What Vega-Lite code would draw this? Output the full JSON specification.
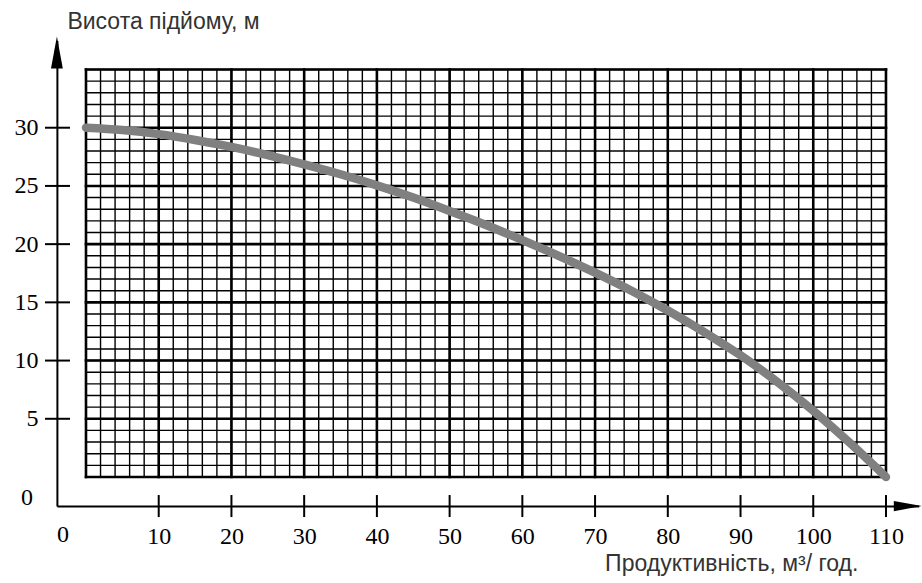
{
  "$schema": "https://vega.github.io/schema/vega-lite/v6.json",
  "width": 861.8,
  "height": 465.7,
  "autosize": {"type": "none"},
  "padding": {"left": 56.9, "top": 40.4, "right": 3.3, "bottom": 76.9},
  "background": "white",
  "config": {
    "view": {"stroke": null},
    "axis": {
      "domainColor": "black",
      "domainWidth": 2,
      "ticks": false,
      "tickSize": 0,
      "grid": false,
      "labelFont": "Liberation Serif",
      "labelFontSize": 24,
      "labelColor": "black",
      "labelFlush": false,
      "labelOverlap": false,
      "titleFont": "Liberation Sans",
      "titleFontSize": 23,
      "titleFontWeight": "normal",
      "titleColor": "#333333"
    }
  },
  "datasets": {
    "curve": [
      {"q": 0, "h": 30.0}, {"q": 5, "h": 29.8}, {"q": 10, "h": 29.45}, {"q": 15, "h": 28.95},
      {"q": 20, "h": 28.35}, {"q": 25, "h": 27.65}, {"q": 30, "h": 26.85}, {"q": 35, "h": 26.0},
      {"q": 40, "h": 25.05}, {"q": 45, "h": 24.0}, {"q": 50, "h": 22.85}, {"q": 55, "h": 21.65},
      {"q": 60, "h": 20.35}, {"q": 65, "h": 19.0}, {"q": 70, "h": 17.55}, {"q": 75, "h": 16.0},
      {"q": 80, "h": 14.3}, {"q": 85, "h": 12.45}, {"q": 90, "h": 10.45}, {"q": 95, "h": 8.2},
      {"q": 100, "h": 5.7}, {"q": 105, "h": 2.95}, {"q": 110, "h": 0.0}
    ],
    "gx": [
      {"v": 0}, {"v": 2}, {"v": 4}, {"v": 6}, {"v": 8}, {"v": 10}, {"v": 12}, {"v": 14}, {"v": 16}, {"v": 18},
      {"v": 20}, {"v": 22}, {"v": 24}, {"v": 26}, {"v": 28}, {"v": 30}, {"v": 32}, {"v": 34}, {"v": 36}, {"v": 38},
      {"v": 40}, {"v": 42}, {"v": 44}, {"v": 46}, {"v": 48}, {"v": 50}, {"v": 52}, {"v": 54}, {"v": 56}, {"v": 58},
      {"v": 60}, {"v": 62}, {"v": 64}, {"v": 66}, {"v": 68}, {"v": 70}, {"v": 72}, {"v": 74}, {"v": 76}, {"v": 78},
      {"v": 80}, {"v": 82}, {"v": 84}, {"v": 86}, {"v": 88}, {"v": 90}, {"v": 92}, {"v": 94}, {"v": 96}, {"v": 98},
      {"v": 100}, {"v": 102}, {"v": 104}, {"v": 106}, {"v": 108}, {"v": 110}
    ],
    "gy": [
      {"v": 0}, {"v": 1}, {"v": 2}, {"v": 3}, {"v": 4}, {"v": 5}, {"v": 6}, {"v": 7}, {"v": 8}, {"v": 9},
      {"v": 10}, {"v": 11}, {"v": 12}, {"v": 13}, {"v": 14}, {"v": 15}, {"v": 16}, {"v": 17}, {"v": 18}, {"v": 19},
      {"v": 20}, {"v": 21}, {"v": 22}, {"v": 23}, {"v": 24}, {"v": 25}, {"v": 26}, {"v": 27}, {"v": 28}, {"v": 29},
      {"v": 30}, {"v": 31}, {"v": 32}, {"v": 33}, {"v": 34}, {"v": 35}
    ]
  },
  "layer": [
    {
      "data": {"name": "curve"},
      "mark": {"type": "line", "color": "#808080", "strokeWidth": 8, "strokeCap": "round", "interpolate": "monotone", "opacity": 0},
      "encoding": {
        "x": {
          "field": "q", "type": "quantitative",
          "scale": {"domain": [-4, 114.5], "nice": false, "zero": false},
          "axis": {
            "values": [10, 20, 30, 40, 50, 60, 70, 80, 90, 100, 110],
            "labelPadding": 30,
            "labelBaseline": "middle",
            "title": "Продуктивність, м³/ год.",
            "titleX": 801,
            "titleY": 57,
            "titleAlign": "right",
            "titleBaseline": "middle"
          }
        },
        "y": {
          "field": "h", "type": "quantitative",
          "scale": {"domain": [-2.5, 37.5], "nice": false, "zero": false},
          "axis": {
            "values": [5, 10, 15, 20, 25, 30],
            "labelPadding": 19,
            "labelBaseline": "middle",
            "labelAlign": "right",
            "title": "Висота підйому, м",
            "titleAngle": 0,
            "titleX": 10,
            "titleY": -18.5,
            "titleAlign": "left",
            "titleBaseline": "middle"
          }
        }
      }
    },
    {
      "data": {"name": "gx"},
      "mark": {"type": "rule", "color": "black", "strokeWidth": 1.4},
      "encoding": {
        "x": {"field": "v", "type": "quantitative", "scale": {"domain": [-4, 114.5], "nice": false, "zero": false}},
        "y": {"datum": 0, "type": "quantitative", "scale": {"domain": [-2.5, 37.5], "nice": false, "zero": false}},
        "y2": {"datum": 35}
      }
    },
    {
      "data": {"name": "gx"},
      "transform": [{"filter": "datum.v % 10 == 0"}],
      "mark": {"type": "rule", "color": "black", "strokeWidth": 2.6, "strokeCap": "square"},
      "encoding": {
        "x": {"field": "v", "type": "quantitative", "scale": {"domain": [-4, 114.5], "nice": false, "zero": false}},
        "y": {"datum": 0, "type": "quantitative", "scale": {"domain": [-2.5, 37.5], "nice": false, "zero": false}},
        "y2": {"datum": 35}
      }
    },
    {
      "data": {"name": "gy"},
      "mark": {"type": "rule", "color": "black", "strokeWidth": 1.4},
      "encoding": {
        "y": {"field": "v", "type": "quantitative", "scale": {"domain": [-2.5, 37.5], "nice": false, "zero": false}},
        "x": {"datum": 0, "type": "quantitative", "scale": {"domain": [-4, 114.5], "nice": false, "zero": false}},
        "x2": {"datum": 110}
      }
    },
    {
      "data": {"name": "gy"},
      "transform": [{"filter": "datum.v % 5 == 0"}],
      "mark": {"type": "rule", "color": "black", "strokeWidth": 2.6, "strokeCap": "square"},
      "encoding": {
        "y": {"field": "v", "type": "quantitative", "scale": {"domain": [-2.5, 37.5], "nice": false, "zero": false}},
        "x": {"datum": 0, "type": "quantitative", "scale": {"domain": [-4, 114.5], "nice": false, "zero": false}},
        "x2": {"datum": 110}
      }
    },
    {
      "data": {"name": "curve"},
      "mark": {"type": "line", "color": "#808080", "strokeWidth": 8.5, "strokeCap": "round", "interpolate": "monotone"},
      "encoding": {
        "x": {"field": "q", "type": "quantitative", "scale": {"domain": [-4, 114.5], "nice": false, "zero": false}},
        "y": {"field": "h", "type": "quantitative", "scale": {"domain": [-2.5, 37.5], "nice": false, "zero": false}}
      }
    },
    {
      "data": {"name": "gx"},
      "transform": [{"filter": "datum.v % 10 == 0 && datum.v > 0"}],
      "mark": {"type": "rule", "color": "black", "strokeWidth": 2},
      "encoding": {
        "x": {"field": "v", "type": "quantitative", "scale": {"domain": [-4, 114.5], "nice": false, "zero": false}},
        "y": {"datum": -1.55, "type": "quantitative", "scale": {"domain": [-2.5, 37.5], "nice": false, "zero": false}},
        "y2": {"datum": -3.44}
      }
    },
    {
      "data": {"name": "gy"},
      "transform": [{"filter": "datum.v % 5 == 0 && datum.v > 0 && datum.v < 35"}],
      "mark": {"type": "rule", "color": "black", "strokeWidth": 2},
      "encoding": {
        "y": {"field": "v", "type": "quantitative", "scale": {"domain": [-2.5, 37.5], "nice": false, "zero": false}},
        "x": {"datum": -5.64, "type": "quantitative", "scale": {"domain": [-4, 114.5], "nice": false, "zero": false}},
        "x2": {"datum": -2.2}
      }
    },
    {
      "data": {"values": [{}]},
      "mark": {"type": "point", "filled": true, "color": "black", "opacity": 1, "strokeWidth": 0, "shape": "M0,-1L0.37,1L-0.37,1Z", "size": 1024},
      "encoding": {
        "x": {"datum": -4, "type": "quantitative", "scale": {"domain": [-4, 114.5], "nice": false, "zero": false}},
        "y": {"datum": 36.45, "type": "quantitative", "scale": {"domain": [-2.5, 37.5], "nice": false, "zero": false}}
      }
    },
    {
      "data": {"values": [{}]},
      "mark": {"type": "point", "filled": true, "color": "black", "opacity": 1, "strokeWidth": 0, "shape": "M1,0L-1,-0.36L-1,0.36Z", "size": 784},
      "encoding": {
        "x": {"datum": 113.0, "type": "quantitative", "scale": {"domain": [-4, 114.5], "nice": false, "zero": false}},
        "y": {"datum": -2.5, "type": "quantitative", "scale": {"domain": [-2.5, 37.5], "nice": false, "zero": false}}
      }
    },
    {
      "data": {"values": [{}]},
      "mark": {"type": "text", "font": "Liberation Serif", "fontSize": 24, "color": "black", "align": "center", "baseline": "middle"},
      "encoding": {
        "x": {"datum": -8.1, "type": "quantitative", "scale": {"domain": [-4, 114.5], "nice": false, "zero": false}},
        "y": {"datum": -1.8, "type": "quantitative", "scale": {"domain": [-2.5, 37.5], "nice": false, "zero": false}},
        "text": {"value": "0"}
      }
    },
    {
      "data": {"values": [{}]},
      "mark": {"type": "text", "font": "Liberation Serif", "fontSize": 24, "color": "black", "align": "center", "baseline": "middle"},
      "encoding": {
        "x": {"datum": -3.16, "type": "quantitative", "scale": {"domain": [-4, 114.5], "nice": false, "zero": false}},
        "y": {"datum": -4.98, "type": "quantitative", "scale": {"domain": [-2.5, 37.5], "nice": false, "zero": false}},
        "text": {"value": "0"}
      }
    }
  ]
}
